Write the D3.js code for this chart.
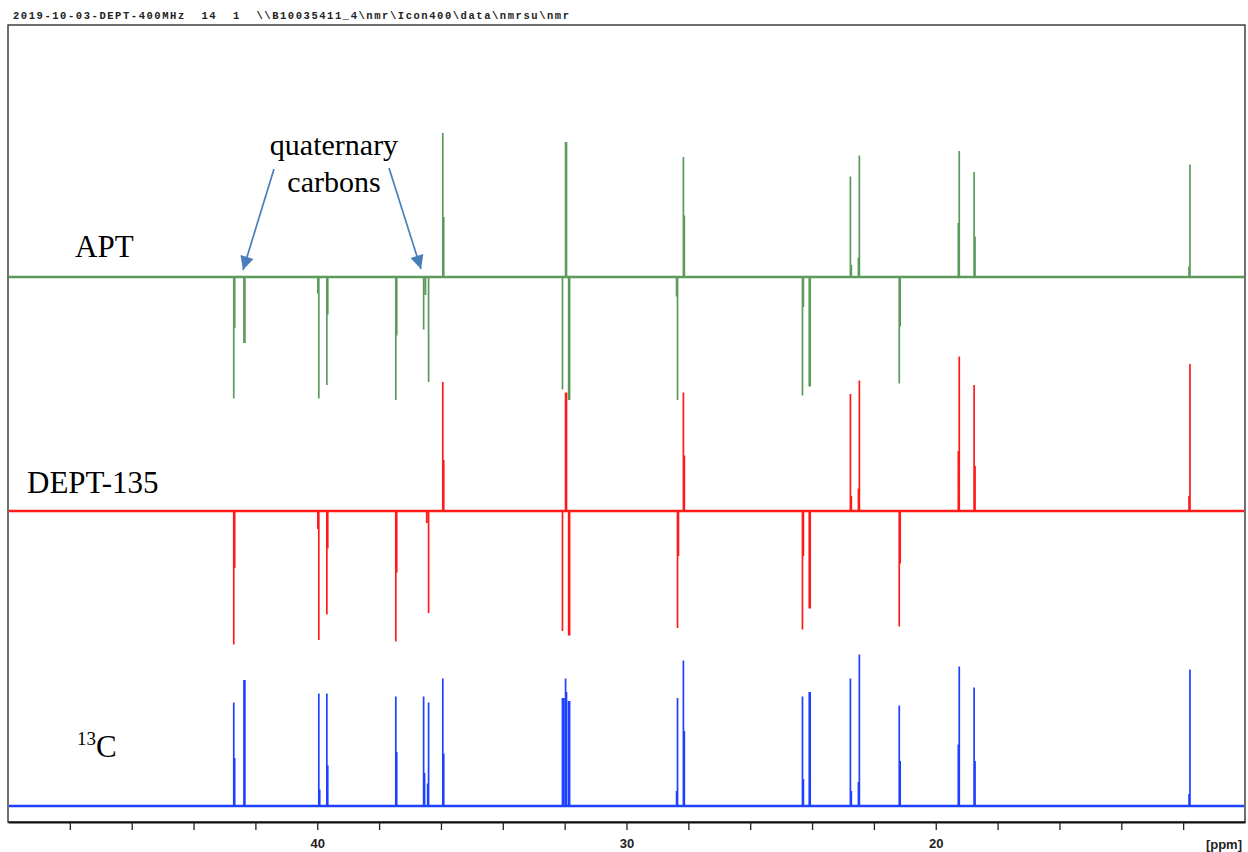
<!DOCTYPE html>
<html>
<head>
<meta charset="utf-8">
<script src="https://cdn.jsdelivr.net/npm/d3@7"></script>
<style>
  body { margin: 0; background: #fff; }
  svg { display: block; }
</style>
</head>
<body>
<div id="chart"></div>
<script>
// header line printed by the NMR software
var headerText = "2019-10-03-DEPT-400MHz  14  1  \\\\B10035411_4\\nmr\\Icon400\\data\\nmrsu\\nmr";

// ppm range of the plot and axis ticks
var ppmRange = [50, 10];
var tickPpm = [48, 46, 44, 42, 40, 38, 36, 34, 32, 30, 28, 26, 24, 22, 20, 18, 16, 14, 12];
var tickLabels = ["40", "30", "20"];

// spectrum lines [ppm, intensity] (intensity -100..100)
var aptLines = [
  [42.70, -81], [42.67, -34], [42.37, -44], [42.34, -44],
  [39.98, -11], [39.95, -81], [39.69, -72], [39.66, -25],
  [37.46, -82], [37.43, -39], [36.56, -35], [36.50, -12], [36.40, -70],
  [35.94, 96], [35.91, 40],
  [32.07, -75], [31.97, 90], [31.94, 90], [31.87, -82], [31.84, -82],
  [28.38, -13], [28.35, -82], [28.16, 80], [28.13, 41],
  [24.31, -79], [24.28, -20], [24.09, -73], [24.06, -73],
  [22.76, 67], [22.73, 8], [22.50, 13], [22.47, 81],
  [21.18, -71], [21.15, -33],
  [19.27, 36], [19.24, 84], [18.76, 70], [18.73, 27],
  [11.81, 7], [11.78, 75]
];

var deptLines = [
  [42.70, -89], [42.67, -38],
  [39.98, -12], [39.95, -86], [39.69, -69], [39.66, -25],
  [37.46, -87], [37.43, -41], [36.46, -8], [36.40, -68],
  [35.94, 86], [35.91, 34],
  [32.07, -80], [31.97, 79], [31.94, 79], [31.87, -83], [31.84, -83],
  [28.35, -78], [28.32, -30], [28.16, 79], [28.13, 37],
  [24.31, -79], [24.28, -30], [24.09, -65], [24.06, -65],
  [22.76, 78], [22.73, 10], [22.50, 15], [22.47, 87],
  [21.18, -77], [21.15, -35],
  [19.27, 40], [19.24, 103], [18.76, 84], [18.73, 30],
  [11.81, 10], [11.78, 98]
];

var c13Lines = [
  [42.70, 69], [42.67, 32], [42.37, 84], [42.34, 84],
  [39.95, 75], [39.92, 11], [39.69, 75], [39.66, 27],
  [37.46, 73], [37.43, 36], [36.56, 73], [36.53, 22], [36.43, 15], [36.40, 69],
  [35.94, 85], [35.91, 35],
  [32.07, 72], [32.03, 72], [31.97, 85], [31.94, 76], [31.87, 70], [31.84, 70],
  [28.38, 10], [28.35, 72], [28.16, 97], [28.13, 50],
  [24.31, 73], [24.28, 18], [24.09, 76], [24.06, 76],
  [22.76, 85], [22.73, 10], [22.50, 16], [22.47, 101],
  [21.18, 67], [21.15, 30],
  [19.27, 41], [19.24, 93], [18.76, 79], [18.73, 30],
  [11.81, 8], [11.78, 91]
];

var spectra = [
  {name: "APT", lines: aptLines, color: "#5c9a5c", base: 277},
  {name: "DEPT-135", lines: deptLines, color: "#ff1a1a", base: 511},
  {name: "13C", lines: c13Lines, color: "#1f40ff", base: 806}
];

var width = 1248, height = 852;
var frame = {left: 8, right: 1245, top: 25, bottom: 822};

var svg = d3.select("#chart").append("svg")
  .attr("width", width)
  .attr("height", height);

var x = d3.scaleLinear().domain(ppmRange).range([frame.left, frame.right]);

// header
svg.append("text")
  .attr("x", 13).attr("y", 19)
  .attr("font-family", "Liberation Mono, Courier New, monospace")
  .attr("font-weight", "bold")
  .attr("font-size", 10.5)
  .attr("textLength", 556)
  .attr("lengthAdjust", "spacing")
  .style("white-space", "pre")
  .attr("fill", "#222")
  .text(headerText);

// frame
svg.append("rect")
  .attr("x", frame.left).attr("y", frame.top)
  .attr("width", frame.right - frame.left)
  .attr("height", frame.bottom - frame.top)
  .attr("fill", "none")
  .attr("stroke", "#333")
  .attr("stroke-width", 1.4);

// spectra
spectra.forEach(function(s) {
  var y = d3.scaleLinear().domain([-100, 100]).range([s.base + 150, s.base - 150]);
  var lines = s.lines.slice().sort(function(a, b) { return b[0] - a[0]; });

  // baseline (noisy in the original, so drawn a bit heavier)
  svg.append("line")
    .attr("x1", x(ppmRange[0]) + 1).attr("x2", x(ppmRange[1]) - 1)
    .attr("y1", y(0)).attr("y2", y(0))
    .attr("stroke", s.color)
    .attr("stroke-width", 2.6);

  var p = d3.path();
  lines.forEach(function(l) {
    p.moveTo(x(l[0]), y(0));
    p.lineTo(x(l[0]), y(l[1]));
  });
  svg.append("path")
    .attr("d", p.toString())
    .attr("fill", "none")
    .attr("stroke", s.color)
    .attr("stroke-width", 1.7);
});

// spectrum labels
var serif = "Liberation Serif, Times New Roman, serif";
svg.append("text").attr("x", 75).attr("y", 257)
  .attr("font-family", serif).attr("font-size", 31).text("APT");
svg.append("text").attr("x", 27).attr("y", 493)
  .attr("font-family", serif).attr("font-size", 31).text("DEPT-135");
var c13 = svg.append("text").attr("x", 77).attr("y", 757)
  .attr("font-family", serif).attr("font-size", 31);
c13.append("tspan").attr("font-size", 19).attr("dy", -12).text("13");
c13.append("tspan").attr("dy", 12).text("C");

// annotation
svg.append("text").attr("x", 334).attr("y", 155)
  .attr("text-anchor", "middle")
  .attr("font-family", serif).attr("font-size", 30).text("quaternary");
svg.append("text").attr("x", 334).attr("y", 192)
  .attr("text-anchor", "middle")
  .attr("font-family", serif).attr("font-size", 30).text("carbons");

svg.append("defs").append("marker")
  .attr("id", "arrow")
  .attr("viewBox", "0 0 10 10")
  .attr("refX", 10).attr("refY", 5)
  .attr("markerWidth", 9).attr("markerHeight", 8)
  .attr("markerUnits", "strokeWidth")
  .attr("orient", "auto")
  .append("path")
  .attr("d", "M0,0 L10,5 L0,10 Z")
  .attr("fill", "#4a7ebb");

var arrows = [[274, 169, 243, 270], [389, 168, 421, 269]];
svg.selectAll(".arrow")
  .data(arrows)
  .enter().append("line")
  .attr("class", "arrow")
  .attr("x1", function(d) { return d[0]; })
  .attr("y1", function(d) { return d[1]; })
  .attr("x2", function(d) { return d[2]; })
  .attr("y2", function(d) { return d[3]; })
  .attr("stroke", "#4a7ebb")
  .attr("stroke-width", 1.7)
  .attr("marker-end", "url(#arrow)");

// x axis
var axis = d3.axisBottom(x)
  .tickValues(tickPpm)
  .tickSize(8)
  .tickSizeOuter(0)
  .tickFormat(function(d) { return tickLabels.indexOf(String(d)) >= 0 ? d : ""; });

var gx = svg.append("g")
  .attr("transform", "translate(0," + frame.bottom + ")")
  .call(axis);
gx.select(".domain").attr("stroke", "#111").attr("stroke-width", 2);
gx.selectAll(".tick line").attr("stroke", "#222").attr("stroke-width", 1.3);
gx.selectAll(".tick text")
  .attr("y", 17)
  .attr("font-family", "Liberation Sans Narrow, Liberation Sans, Arial, sans-serif")
  .attr("font-weight", "bold")
  .attr("font-size", 13)
  .attr("fill", "#222");

svg.append("text")
  .attr("x", 1242).attr("y", 849)
  .attr("text-anchor", "end")
  .attr("font-family", "Liberation Sans Narrow, Liberation Sans, Arial, sans-serif")
  .attr("font-weight", "bold")
  .attr("font-size", 13)
  .attr("fill", "#222")
  .text("[ppm]");
</script>
</body>
</html>
